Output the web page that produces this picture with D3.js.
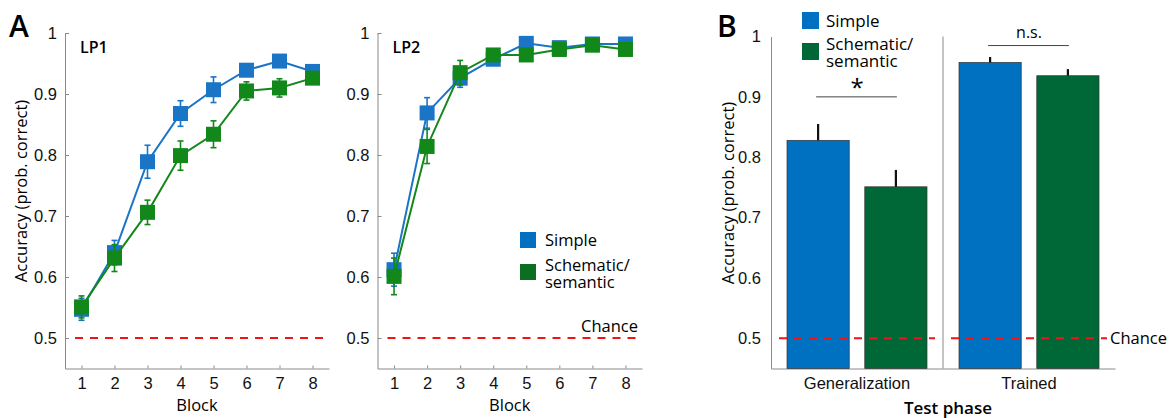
<!DOCTYPE html>
<html lang="en">
<head>
<meta charset="UTF-8">
<script src="https://d3js.org/d3.v7.min.js"></script>
<style>
  body { margin: 0; background: #fff; }
  svg { display: block; font-family: "Open Sans", "Noto Sans", sans-serif; }
  .axis path, .axis line { stroke: #8a8a8a; }
  .axis text { fill: #111; font-size: 16.5px; }
</style>
</head>
<body>
<script>
// ---- data ----
const blocks = [1, 2, 3, 4, 5, 6, 7, 8];
const yTicks = [0.5, 0.6, 0.7, 0.8, 0.9, 1];

// LP1
const lp1Simple = [0.547, 0.640, 0.789, 0.868, 0.907, 0.939, 0.954, 0.937];
const lp1SimpleErr = [0.018, 0.020, 0.027, 0.021, 0.021, 0.010, 0.006, 0.005];
const lp1Schem = [0.551, 0.631, 0.706, 0.799, 0.834, 0.905, 0.910, 0.926];
const lp1SchemErr = [0.018, 0.022, 0.020, 0.024, 0.022, 0.015, 0.015, 0.005];

// LP2
const lp2Simple = [0.612, 0.869, 0.926, 0.957, 0.983, 0.976, 0.982, 0.982];
const lp2SimpleErr = [0.027, 0.025, 0.015, 0.006, 0.004, 0.004, 0.004, 0.004];
const lp2Schem = [0.601, 0.814, 0.935, 0.964, 0.964, 0.973, 0.980, 0.973];
const lp2SchemErr = [0.030, 0.028, 0.020, 0.005, 0.004, 0.004, 0.004, 0.004];

// panel B
const phases = ["Generalization", "Trained"];
const barSimple = [0.828, 0.957];
const barSimpleErr = [0.027, 0.009];
const barSchem = [0.751, 0.935];
const barSchemErr = [0.028, 0.011];

const legendLabels = ["Simple", "Schematic/\nsemantic"];
const chance = 0.5;

const blueLine = "#1a75c6", greenLine = "#13881a";
const blueBar = "#0070c0", greenBar = "#006837";

const W = 1169, H = 418;
const svg = d3.select("body").append("svg").attr("width", W).attr("height", H);

// multi-line label as one text element
function multiText(sel, str, lh) {
  str.split("\n").forEach((s, i) => {
    sel.append("tspan").attr("x", sel.attr("x")).attr("dy", i ? lh : 0).text(s);
  });
  return sel;
}

// ---- line panels ----
function linePanel(x0, x1, title, sA, eA, sB, eB) {
  const g = svg.append("g");
  const x = d3.scaleLinear().domain([0.5, 8.5]).range([x0, x1]);
  const y = d3.scaleLinear().domain([0.45, 1]).range([368.5, 33]);

  g.append("g").attr("class", "axis")
    .attr("transform", `translate(0,${y(0.45)})`)
    .call(d3.axisBottom(x).tickValues(blocks).tickSize(-3).tickPadding(0).tickSizeOuter(0))
    .selectAll("text").attr("dy", "20px");
  g.append("g").attr("class", "axis")
    .attr("transform", `translate(${x0},0)`)
    .call(d3.axisLeft(y).tickValues(yTicks).tickSize(-4).tickPadding(8).tickSizeOuter(0)
      .tickFormat(d => d === 1 ? "1" : d3.format(".1f")(d)));

  g.append("text").attr("x", (x0 + x1) / 2).attr("y", 411)
    .attr("text-anchor", "middle").attr("font-size", 16.5).text("Block");

  g.append("text").attr("x", x0 + 15).attr("y", 53)
    .attr("font-size", 16).attr("font-weight", 600).text(title);

  // chance line
  g.append("line").attr("x1", x0 + 10).attr("x2", x1)
    .attr("y1", y(chance)).attr("y2", y(chance))
    .attr("stroke", "#f01414").attr("stroke-width", 2).attr("stroke-dasharray", "8,7");

  const series = [
    { v: sA, e: eA, c: blueLine },
    { v: sB, e: eB, c: greenLine }
  ];
  series.forEach(s => {
    const pts = blocks.map((b, i) => ({ b, v: s.v[i], e: s.e[i] }));
    g.append("path").datum(pts)
      .attr("fill", "none").attr("stroke", s.c).attr("stroke-width", 2)
      .attr("d", d3.line().x(d => x(d.b)).y(d => y(d.v)));
    const eb = g.append("g").selectAll("g").data(pts).join("g").attr("stroke", s.c).attr("stroke-width", 1.6);
    eb.append("line").attr("x1", d => x(d.b)).attr("x2", d => x(d.b))
      .attr("y1", d => y(d.v - d.e)).attr("y2", d => y(d.v + d.e));
    eb.append("line").attr("x1", d => x(d.b) - 3).attr("x2", d => x(d.b) + 3)
      .attr("y1", d => y(d.v - d.e)).attr("y2", d => y(d.v - d.e));
    eb.append("line").attr("x1", d => x(d.b) - 3).attr("x2", d => x(d.b) + 3)
      .attr("y1", d => y(d.v + d.e)).attr("y2", d => y(d.v + d.e));
    g.append("g").selectAll("rect").data(pts).join("rect")
      .attr("x", d => x(d.b) - 7.5).attr("y", d => y(d.v) - 7.5)
      .attr("width", 15).attr("height", 15).attr("fill", s.c);
  });
  return { g, x, y };
}

const a1 = linePanel(65, 329, "LP1", lp1Simple, lp1SimpleErr, lp1Schem, lp1SchemErr);
a1.g.append("text").attr("transform", "translate(27,191) rotate(-90)")
  .attr("text-anchor", "middle").attr("font-size", 16.5).text("Accuracy (prob. correct)");

const a2 = linePanel(377.5, 642, "LP2", lp2Simple, lp2SimpleErr, lp2Schem, lp2SchemErr);
a2.g.append("text").attr("x", 638).attr("y", 332).attr("text-anchor", "end")
  .attr("font-size", 16.5).text("Chance");

// legend in A2
const legA = a2.g.append("g").attr("transform", "translate(520,232)");
legA.append("rect").attr("width", 16).attr("height", 16).attr("fill", blueBar);
legA.append("text").attr("x", 25).attr("y", 14).attr("font-size", 16.5).text(legendLabels[0]);
legA.append("rect").attr("y", 32).attr("width", 16).attr("height", 16).attr("fill", "#0b6e20");
multiText(legA.append("text").attr("x", 25).attr("y", 39).attr("font-size", 16.5), legendLabels[1], 17);

svg.append("text").attr("x", 9).attr("y", 37).attr("font-size", 30).attr("font-weight", 600).text("A");
svg.append("text").attr("x", 717).attr("y", 37).attr("font-size", 30).attr("font-weight", 600).text("B");

// ---- bar panel ----
const bx0 = 771, bx1 = 1115;
const by = d3.scaleLinear().domain([0.45, 1]).range([368.5, 36.5]);
const bx = d3.scaleBand().domain(phases).range([bx0, bx1]).paddingInner(0).paddingOuter(0);
const inner = d3.scaleBand().domain(["simple", "schem"]).range([16, bx.bandwidth() - 16]).paddingInner(0.2);
const gb = svg.append("g");

gb.append("g").attr("class", "axis")
  .attr("transform", `translate(0,${by(0.45)})`)
  .call(d3.axisBottom(bx).tickSize(0).tickPadding(0).tickSizeOuter(0))
  .selectAll("text").attr("dy", "20px");
gb.append("g").attr("class", "axis")
  .attr("transform", `translate(${bx0},0)`)
  .call(d3.axisLeft(by).tickValues(yTicks).tickSize(0).tickPadding(10).tickSizeOuter(0)
    .tickFormat(d => d === 1 ? "1" : d3.format(".1f")(d)));

// separator between phases
gb.append("line").attr("x1", bx("Trained")).attr("x2", bx("Trained"))
  .attr("y1", by(1)).attr("y2", by(0.45)).attr("stroke", "#8a8a8a");

const bars = phases.flatMap((p, i) => [
  { p, k: "simple", v: barSimple[i], e: barSimpleErr[i], c: blueBar },
  { p, k: "schem", v: barSchem[i], e: barSchemErr[i], c: greenBar }
]);

gb.selectAll("rect.bar").data(bars).join("rect").attr("class", "bar")
  .attr("x", d => bx(d.p) + inner(d.k)).attr("width", inner.bandwidth())
  .attr("y", d => by(d.v)).attr("height", d => by(0.45) - by(d.v))
  .attr("fill", d => d.c).attr("stroke", "#333").attr("stroke-width", 0.7);
gb.selectAll("line.err").data(bars).join("line").attr("class", "err")
  .attr("x1", d => bx(d.p) + inner(d.k) + inner.bandwidth() / 2)
  .attr("x2", d => bx(d.p) + inner(d.k) + inner.bandwidth() / 2)
  .attr("y1", d => by(d.v)).attr("y2", d => by(d.v + d.e))
  .attr("stroke", "#111").attr("stroke-width", 2.2);

phases.forEach(p => {
  gb.append("line").attr("x1", bx(p) + 8).attr("x2", bx(p) + bx.bandwidth() - 8)
    .attr("y1", by(chance)).attr("y2", by(chance))
    .attr("stroke", "#f01414").attr("stroke-width", 2).attr("stroke-dasharray", "8,7");
});
gb.append("text").attr("x", 1110).attr("y", by(chance) + 6).attr("font-size", 16.5).text("Chance");

// significance markers
function sig(p, yv, label, dy) {
  const cx1 = bx(p) + inner("simple") + inner.bandwidth() / 2;
  const cx2 = bx(p) + inner("schem") + inner.bandwidth() / 2;
  gb.append("line").attr("x1", cx1 - 2).attr("x2", cx2 + 1)
    .attr("y1", by(yv)).attr("y2", by(yv)).attr("stroke", "#444").attr("stroke-width", 1);
  gb.append("text").attr("x", (cx1 + cx2) / 2).attr("y", by(yv) + dy)
    .attr("text-anchor", "middle").attr("font-size", label === "*" ? 24 : 16).text(label);
}
sig("Generalization", 0.9, "*", -1);
sig("Trained", 0.985, "n.s.", -8);

gb.append("text").attr("transform", `translate(734,193) rotate(-90)`)
  .attr("text-anchor", "middle").attr("font-size", 16.5).text("Accuracy (prob. correct)");
gb.append("text").attr("x", 948).attr("y", 414).attr("text-anchor", "middle")
  .attr("font-size", 17).attr("font-weight", 600).text("Test phase");

const legB = gb.append("g").attr("transform", "translate(802,12)");
legB.append("rect").attr("width", 17).attr("height", 17).attr("fill", blueBar);
legB.append("text").attr("x", 24).attr("y", 15).attr("font-size", 17).text(legendLabels[0]);
legB.append("rect").attr("y", 31).attr("width", 17).attr("height", 17).attr("fill", greenBar);
multiText(legB.append("text").attr("x", 24).attr("y", 38).attr("font-size", 17), legendLabels[1], 17);
</script>
</body>
</html>
